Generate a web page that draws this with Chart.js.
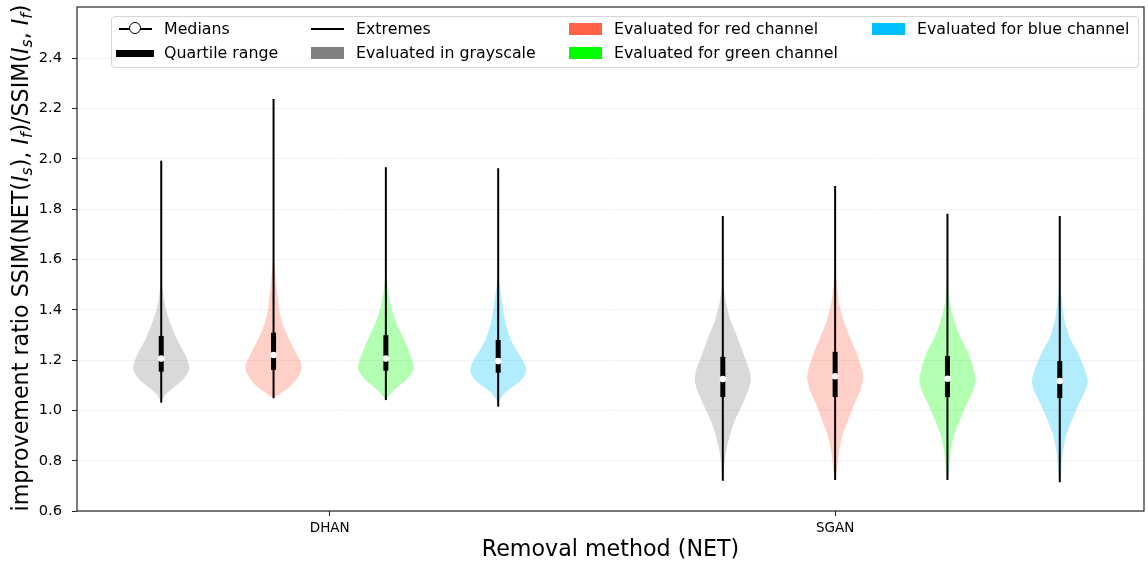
<!DOCTYPE html>
<html lang="en">
<head>
<meta charset="UTF-8">
<title>Improvement ratio by removal method</title>
<script src="https://cdn.jsdelivr.net/npm/chart.js"></script>
<style>
  body { margin: 0; background: #fff; font-family: "DejaVu Sans", sans-serif; }
  #wrap { position: relative; width: 1148px; height: 569px; overflow: hidden; }
  #ytitle {
    position: absolute; left: -280px; top: 245px; width: 600px; height: 26px;
    line-height: 26px; text-align: center; white-space: nowrap;
    font-size: 22.2px; color: #000; transform: rotate(-90deg);
  }
  #ytitle sub { font-size: 0.7em; vertical-align: -0.25em; line-height: 0; }
  .legend {
    position: absolute; left: 111px; top: 16px; width: 1026px; height: 50px;
    border: 1px solid #d6d6d6; border-radius: 4px; background: rgba(255,255,255,0.8);
    font-size: 15.8px; color: #000;
  }
  .item { position: absolute; height: 20px; line-height: 20px; white-space: nowrap; }
  .item span { position: absolute; left: 45px; top: 0; }
  .mk { position: absolute; left: 0; width: 33px; }
</style>
</head>
<body>
<div id="wrap">
  <canvas id="violins" width="1148" height="569"></canvas>
  <div id="ytitle">improvement ratio SSIM(NET(<i>I</i><sub><i>s</i></sub>), <i>I</i><sub><i>f</i></sub>)/SSIM(<i>I</i><sub><i>s</i></sub>, <i>I</i><sub><i>f</i></sub>)</div>
  <div class="legend" id="legend"></div>
</div>
<script>
  // groups on the x axis and the four evaluated channels
  const groups = ["DHAN", "SGAN"];
  const groupTicks = [1.5, 6];
  const channels = ["Evaluated in grayscale", "Evaluated for red channel", "Evaluated for green channel", "Evaluated for blue channel"];
  const channelColors = ["128,128,128", "255,99,71", "0,255,0", "0,191,255"];
  const yTickValues = [0.6, 0.8, 1.0, 1.2, 1.4, 1.6, 1.8, 2.0, 2.2, 2.4];

  // one entry per violin: DHAN gray/red/green/blue, then SGAN gray/red/green/blue
  const positions = [0, 1, 2, 3, 5, 6, 7, 8];
  const minima = [1.031, 1.048, 1.041, 1.015, 0.720, 0.723, 0.723, 0.714];
  const maxima = [1.993, 2.238, 1.967, 1.963, 1.773, 1.892, 1.782, 1.773];
  const q1 = [1.154, 1.161, 1.158, 1.150, 1.053, 1.053, 1.053, 1.049];
  const q3 = [1.296, 1.309, 1.299, 1.280, 1.213, 1.233, 1.216, 1.196];
  const medians = [1.206, 1.220, 1.206, 1.196, 1.125, 1.136, 1.126, 1.117];

  // density profiles (relative width, max = 1) at the given ratio levels
  const dhanGrayY = [1.031, 1.06, 1.08, 1.10, 1.12, 1.15, 1.17, 1.19, 1.22, 1.25, 1.28, 1.31, 1.34, 1.37, 1.40, 1.44, 1.48, 1.53];
  const dhanGrayW = [0, 0.13, 0.32, 0.54, 0.75, 0.95, 1, 0.96, 0.86, 0.72, 0.57, 0.46, 0.35, 0.25, 0.17, 0.10, 0.05, 0.01];
  const dhanRedY = [1.048, 1.07, 1.09, 1.12, 1.15, 1.175, 1.20, 1.25, 1.30, 1.35, 1.40, 1.45, 1.50, 1.56, 1.61];
  const dhanRedW = [0, 0.29, 0.54, 0.80, 0.96, 1, 0.93, 0.70, 0.48, 0.31, 0.20, 0.15, 0.10, 0.05, 0.01];
  const dhanGreenY = [1.041, 1.06, 1.08, 1.10, 1.12, 1.15, 1.17, 1.19, 1.22, 1.25, 1.28, 1.31, 1.34, 1.37, 1.40, 1.44, 1.48, 1.53];
  const dhanGreenW = [0, 0.13, 0.29, 0.50, 0.71, 0.93, 1, 0.96, 0.87, 0.77, 0.65, 0.53, 0.40, 0.30, 0.21, 0.13, 0.07, 0.02];
  const dhanBlueY = [1.015, 1.04, 1.07, 1.095, 1.12, 1.14, 1.16, 1.18, 1.21, 1.24, 1.27, 1.30, 1.34, 1.38, 1.42, 1.46, 1.50, 1.54];
  const dhanBlueW = [0, 0.05, 0.25, 0.54, 0.82, 0.95, 1, 0.96, 0.82, 0.65, 0.50, 0.39, 0.28, 0.20, 0.15, 0.10, 0.05, 0.01];
  const sganGrayY = [0.720, 0.76, 0.80, 0.85, 0.90, 0.96, 1.02, 1.08, 1.12, 1.16, 1.22, 1.29, 1.36, 1.43, 1.50];
  const sganGrayW = [0, 0.04, 0.07, 0.14, 0.25, 0.43, 0.68, 0.91, 1, 0.95, 0.75, 0.52, 0.27, 0.11, 0.02];
  const sganRedY = [0.723, 0.76, 0.83, 0.90, 0.96, 1.03, 1.08, 1.13, 1.16, 1.23, 1.29, 1.36, 1.43, 1.49, 1.56];
  const sganRedW = [0, 0.06, 0.13, 0.26, 0.46, 0.70, 0.90, 1, 0.96, 0.76, 0.53, 0.29, 0.13, 0.07, 0.01];
  const sganGreenY = [0.723, 0.76, 0.83, 0.90, 0.96, 1.03, 1.08, 1.12, 1.16, 1.23, 1.29, 1.36, 1.43, 1.48, 1.53];
  const sganGreenW = [0, 0.05, 0.11, 0.23, 0.44, 0.71, 0.92, 1, 0.94, 0.74, 0.46, 0.23, 0.08, 0.04, 0.01];
  const sganBlueY = [0.714, 0.76, 0.83, 0.90, 0.96, 1.03, 1.075, 1.115, 1.16, 1.23, 1.29, 1.36, 1.43, 1.47, 1.51];
  const sganBlueW = [0, 0.05, 0.11, 0.23, 0.43, 0.70, 0.90, 1, 0.90, 0.64, 0.35, 0.17, 0.08, 0.04, 0.01];

  const profileY = [dhanGrayY, dhanRedY, dhanGreenY, dhanBlueY, sganGrayY, sganRedY, sganGreenY, sganBlueY];
  const profileW = [dhanGrayW, dhanRedW, dhanGreenW, dhanBlueW, sganGrayW, sganRedW, sganGreenW, sganBlueW];

  const halfWidth = 0.25; // matplotlib violin width 0.5
  const font = "'DejaVu Sans', sans-serif";

  // violin outline: up the right side, back down the left side
  const violinSets = positions.map((pos, i) => {
    const ys = profileY[i], ws = profileW[i];
    const pts = [];
    ys.forEach((y, k) => pts.push({ x: pos + ws[k] * halfWidth, y: y }));
    for (let k = ys.length - 1; k >= 0; k--) pts.push({ x: pos - ws[k] * halfWidth, y: ys[k] });
    return {
      type: "line",
      data: pts,
      fill: "shape",
      backgroundColor: "rgba(" + channelColors[i % 4] + ",0.3)",
      borderColor: "transparent",
      borderWidth: 0,
      pointRadius: 0,
      tension: 0.2,
      order: 4
    };
  });

  const datasets = [
    {
      type: "line",
      data: positions.map((p, i) => ({ x: p, y: medians[i] })),
      showLine: false,
      pointRadius: 3.3,
      pointBackgroundColor: "#fff",
      pointBorderWidth: 0,
      pointBorderColor: "#fff",
      order: 0
    },
    {
      type: "bar",
      data: positions.map((p, i) => ({ x: p, y: [q1[i], q3[i]] })),
      backgroundColor: "#000",
      grouped: false,
      maxBarThickness: 5,
      order: 1
    },
    {
      type: "bar",
      data: positions.map((p, i) => ({ x: p, y: [minima[i], maxima[i]] })),
      backgroundColor: "#000",
      grouped: false,
      maxBarThickness: 2,
      order: 2
    }
  ].concat(violinSets);

  const frame = {
    id: "frame",
    afterDatasetsDraw(chart) {
      const a = chart.chartArea, ctx = chart.ctx;
      ctx.save();
      ctx.strokeStyle = "#111";
      ctx.lineWidth = 1.1;
      ctx.strokeRect(a.left, a.top, a.right - a.left, a.bottom - a.top);
      ctx.restore();
    }
  };

  function noPad(axis) {
    axis.paddingTop = 0; axis.paddingBottom = 0;
    axis.paddingLeft = 0; axis.paddingRight = 0;
  }

  new Chart(document.getElementById("violins"), {
    type: "line",
    data: { datasets: datasets },
    options: {
      responsive: false,
      animation: false,
      layout: { padding: { top: 7, right: 4, left: 0, bottom: 0 } },
      plugins: { legend: { display: false }, tooltip: { enabled: false } },
      scales: {
        x: {
          type: "linear",
          min: -0.75,
          max: 8.75,
          offset: false,
          afterBuildTicks(axis) { axis.ticks = groupTicks.map(v => ({ value: v })); },
          afterFit(axis) { axis.height = 58; noPad(axis); },
          ticks: {
            autoSkip: false,
            maxRotation: 0,
            padding: 4,
            color: "#000",
            font: { family: font, size: 13.5 },
            callback: (v) => groups[groupTicks.indexOf(v)]
          },
          grid: { offset: false, drawOnChartArea: false, drawTicks: true, tickLength: 5, tickColor: "#222" },
          border: { display: false },
          title: {
            display: true,
            text: "Removal method (NET)",
            color: "#000",
            font: { family: font, size: 22.2 },
            padding: { top: 0, bottom: 5 }
          }
        },
        y: {
          type: "linear",
          min: 0.6,
          max: 2.604,
          afterBuildTicks(axis) { axis.ticks = yTickValues.map(v => ({ value: v })); },
          afterFit(axis) { axis.width = 77; noPad(axis); },
          ticks: {
            padding: 10,
            color: "#000",
            font: { family: font, size: 14.67 },
            callback: (v) => Number(v).toFixed(1)
          },
          grid: { offset: false, color: "rgba(0,0,0,0.05)", lineWidth: 1, drawTicks: true, tickLength: 5, tickColor: "#222" },
          border: { display: false }
        }
      }
    },
    plugins: [frame]
  });

  // legend, laid out column by column as in the original
  const legendItems = [
    { col: 0, row: 0, text: "Medians", kind: "median" },
    { col: 0, row: 1, text: "Quartile range", kind: "quartile" },
    { col: 1, row: 0, text: "Extremes", kind: "extreme" },
    { col: 1, row: 1, text: channels[0], kind: "patch", color: channelColors[0] },
    { col: 2, row: 0, text: channels[1], kind: "patch", color: channelColors[1] },
    { col: 2, row: 1, text: channels[2], kind: "patch", color: channelColors[2] },
    { col: 3, row: 0, text: channels[3], kind: "patch", color: channelColors[3] }
  ];
  const colX = [7, 199, 457, 760];
  const rowY = [2, 26];
  const legend = document.getElementById("legend");
  legendItems.forEach((it) => {
    const d = document.createElement("div");
    d.className = "item";
    d.style.left = colX[it.col] + "px";
    d.style.top = rowY[it.row] + "px";
    let mk = "";
    if (it.kind === "median") {
      mk = '<div class="mk" style="top:9px;height:2px;background:#000"></div>' +
           '<div style="position:absolute;left:10px;top:3px;width:10px;height:10px;border:1.5px solid #000;border-radius:50%;background:#fff"></div>';
    } else if (it.kind === "quartile") {
      mk = '<div class="mk" style="left:-3px;width:38px;top:7px;height:7px;background:#000"></div>';
    } else if (it.kind === "extreme") {
      mk = '<div class="mk" style="top:9px;height:1.5px;background:#000"></div>';
    } else {
      mk = '<div class="mk" style="top:4px;height:12px;background:rgb(' + it.color + ')"></div>';
    }
    d.innerHTML = mk + "<span>" + it.text + "</span>";
    legend.appendChild(d);
  });
</script>
</body>
</html>
